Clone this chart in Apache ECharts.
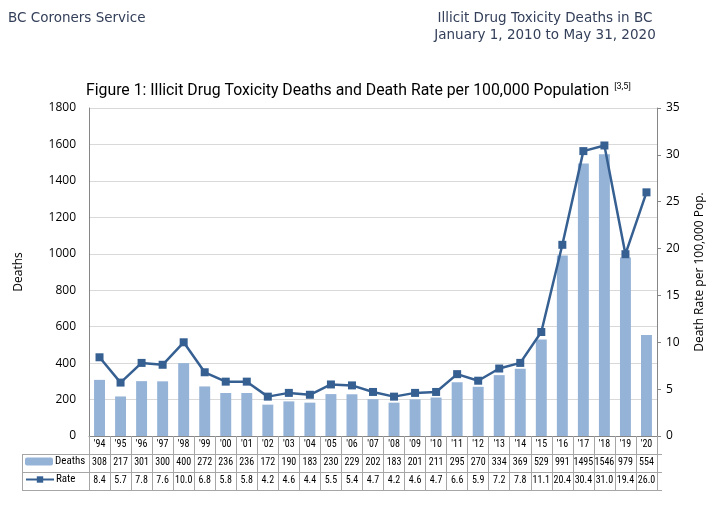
<!DOCTYPE html>
<html><head><meta charset="utf-8">
<script src="https://cdn.jsdelivr.net/npm/echarts@6/dist/echarts.min.js"></script>
<style>html,body{margin:0;padding:0;background:#fff}#c{width:714px;height:519px}</style>
</head><body><div id="c"></div>
<script>
const years = ["'94","'95","'96","'97","'98","'99","'00","'01","'02","'03","'04","'05","'06","'07","'08","'09","'10","'11","'12","'13","'14","'15","'16","'17","'18","'19","'20"];
const deaths = [308,217,301,300,400,272,236,236,172,190,183,230,229,202,183,201,211,295,270,334,369,529,991,1495,1546,979,554];
const rate = [8.4,5.7,7.8,7.6,10.0,6.8,5.8,5.8,4.2,4.6,4.4,5.5,5.4,4.7,4.2,4.6,4.7,6.6,5.9,7.2,7.8,11.1,20.4,30.4,31.0,19.4,26.0];
const leftTicks = {min:0, max:1800, interval:200};
const rightTicks = {min:0, max:35, interval:5};

const narrow = "'Liberation Sans Narrow', 'Roboto Condensed', 'Noto Sans', sans-serif";
const sans = "'Open Sans', 'Noto Sans', sans-serif";
const titleFont = "Roboto, 'Noto Sans', sans-serif";
const hdrFont = "'DejaVu Sans', sans-serif";
const hdrColor = '#34405a';
const GL = 89, GR = 662, GT = 108, GB = 436;
const borderC = '#a6a6a6';

const chart = echarts.init(document.getElementById('c'), null, {renderer:'canvas'});
chart.setOption({
  animation: false,
  backgroundColor: '#fff',
  title: {
    left: 86, top: 82, padding: 0,
    text: '{m|Figure 1: Illicit Drug Toxicity Deaths and Death Rate per 100,000 Population} {s|[3,5]}',
    textStyle: {
      fontWeight: 'normal',
      rich: {
        m: {fontFamily: titleFont, fontSize: 15.8, fontWeight: 'normal', color: '#000'},
        s: {fontFamily: titleFont, fontSize: 9, fontWeight: 'normal', color: '#000', verticalAlign: 'top', padding:[0,0,7,0]}
      }
    }
  },
  legend: [
    {data:['Deaths'], left: 25, top: 456, padding: 0, itemWidth: 28, itemHeight: 8,
     textStyle:{fontFamily: narrow, fontSize: 11, color:'#000', padding:[0,0,0,-3]}},
    {data:['Rate'], left: 25, top: 474, padding: 0, itemWidth: 28, itemHeight: 8,
     textStyle:{fontFamily: narrow, fontSize: 11, color:'#000', padding:[0,0,0,-3]}}
  ],
  grid: {left: GL, right: 714-GR, top: GT, bottom: 519-GB, containLabel: false},
  xAxis: [
    {type:'category', data: years, position:'bottom',
     axisLine:{lineStyle:{color:'#868686'}},
     axisTick:{show:true, interval:0, length:54, lineStyle:{color:borderC}},
     axisLabel:{interval:0, margin:3, fontFamily: narrow, fontSize:10, color:'#000'}},
    {type:'category', data: deaths.map(String), position:'bottom', offset:18,
     axisLine:{show:false}, axisTick:{show:false},
     axisLabel:{interval:0, margin:3, fontFamily: narrow, fontSize:10, color:'#000'}},
    {type:'category', data: rate.map(v=>v.toFixed(1)), position:'bottom', offset:36,
     axisLine:{show:false}, axisTick:{show:false},
     axisLabel:{interval:0, margin:3, fontFamily: narrow, fontSize:10, color:'#000'}}
  ],
  yAxis: [
    {type:'value', min:leftTicks.min, max:leftTicks.max, interval:leftTicks.interval,
     axisLine:{show:true, lineStyle:{color:'#868686'}}, axisTick:{show:false},
     splitLine:{lineStyle:{color:'#d9d9d9'}},
     axisLabel:{margin:13, fontFamily: sans, fontSize:12, color:'#000', formatter: v => String(v)},
     name:'Deaths', nameLocation:'middle', nameGap:64, nameRotate:90,
     nameTextStyle:{fontFamily: sans, fontSize:12, color:'#000'}},
    {type:'value', position:'right', min:rightTicks.min, max:rightTicks.max, interval:rightTicks.interval,
     axisLine:{show:true, lineStyle:{color:'#868686'}},
     axisTick:{show:true, length:4, lineStyle:{color:'#868686'}},
     splitLine:{show:false},
     axisLabel:{margin:9, fontFamily: sans, fontSize:12, color:'#000', formatter: v => String(v)},
     name:'Death Rate per 100,000 Pop.', nameLocation:'middle', nameGap:37, nameRotate:90,
     nameTextStyle:{fontFamily: sans, fontSize:12, color:'#000'}}
  ],
  series: [
    {name:'Deaths', type:'bar', data: deaths, xAxisIndex:0, yAxisIndex:0, barWidth:'52%',
     itemStyle:{color:'#95b3d7'}},
    {name:'Rate', type:'line', data: rate, xAxisIndex:0, yAxisIndex:1,
     symbol:'rect', symbolSize:8, lineStyle:{color:'#366092', width:2.5},
     itemStyle:{color:'#366092'}}
  ],
  graphic: [
    {type:'text', x: 8, y: 11, style:{text:'BC Coroners Service', fontFamily:hdrFont, fontSize:13.5, fill:hdrColor}},
    {type:'text', x: 545, y: 11, style:{text:'Illicit Drug Toxicity Deaths in BC', textAlign:'center', fontFamily:hdrFont, fontSize:13.5, fill:hdrColor}},
    {type:'text', x: 545, y: 28, style:{text:'January 1, 2010 to May 31, 2020', textAlign:'center', fontFamily:hdrFont, fontSize:13.5, fill:hdrColor}},
    {type:'line', shape:{x1:22, y1:454.5, x2:GR, y2:454.5}, style:{stroke:borderC, lineWidth:1}},
    {type:'line', shape:{x1:22, y1:472.5, x2:GR, y2:472.5}, style:{stroke:borderC, lineWidth:1}},
    {type:'line', shape:{x1:22, y1:490.5, x2:GR, y2:490.5}, style:{stroke:borderC, lineWidth:1}},
    {type:'line', shape:{x1:22.5, y1:454.5, x2:22.5, y2:490.5}, style:{stroke:borderC, lineWidth:1}}
  ]
});
</script></body></html>
